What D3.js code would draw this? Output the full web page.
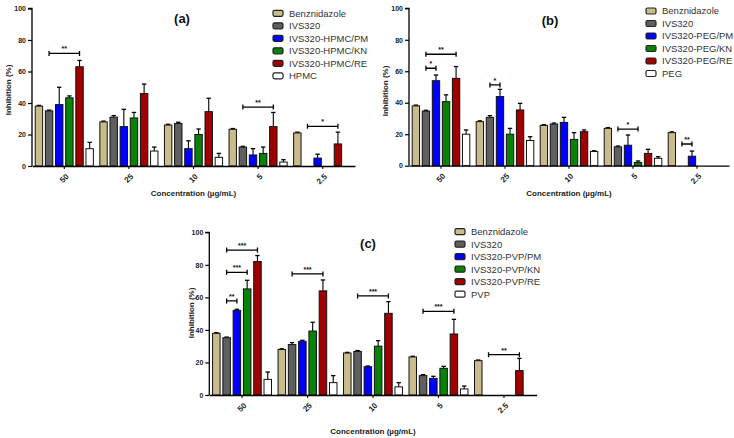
<!DOCTYPE html>
<html><head><meta charset="utf-8">
<script src="https://cdn.jsdelivr.net/npm/d3@7"></script>
<style>body{margin:0;background:#fff;font-family:"Liberation Sans",Arial,sans-serif;}</style>
</head><body><svg id="chart" width="734" height="438"></svg>
<script>
const categories = ["50","25","10","5","2.5"];
const yTicks = [0,20,40,60,80,100];
const colors = ["#c9bb8b","#5f5f5f","#0000ff","#0a820a","#a00000","#ffffff"];

const seriesA = ["Benznidazole","IVS320","IVS320-HPMC/PM","IVS320-HPMC/KN","IVS320-HPMC/RE","HPMC"];
const valuesA = [
  [38,28,26,23.3,21],
  [35,31,27,12,null],
  [39,25,11,7,5],
  [43.3,30.5,20,8,null],
  [63,46,34.5,25,14],
  [11,9.5,5.5,2.5,null]];
const errorsA = [
  [0.5,0.5,0.5,0.5,0.5],
  [0.5,1,0.8,0.5,null],
  [11,11,5,4,2.5],
  [1.2,3.5,3.5,4,null],
  [4,6,8.5,9,7.5],
  [4,2.5,2.5,1.5,null]];
const sigA = [["50",1,4,71.5,"**"],["5",1,4,37.4,"**"],["2.5",1,4,25.2,"*"]];

const seriesB = ["Benznidazole","IVS320","IVS320-PEG/PM","IVS320-PEG/KN","IVS320-PEG/RE","PEG"];
const valuesB = [
  [38,28,25.6,23.7,21],
  [34.7,30.7,26.5,12,null],
  [54,43.9,27.5,13,6],
  [40.7,20,16.7,2,null],
  [55.5,35.4,21.6,7.8,null],
  [20,16,9,4.7,null]];
const errorsB = [
  [0.5,0.5,0.5,0.5,0.5],
  [0.5,1.1,0.6,0.5,null],
  [3.6,4.6,3.2,6.5,3.3],
  [4.3,3.7,4.3,1,null],
  [7.5,4.2,1.1,2.6,null],
  [2.7,2.4,0.5,1,null]];
const sigB = [["50",1,2,61.9,"*"],["50",1,4,70.8,"**"],["25",1,2,51.3,"*"],["5",1,3,23.3,"*"],["2.5",1,2,13.8,"**"]];

const seriesC = ["Benznidazole","IVS320","IVS320-PVP/PM","IVS320-PVP/KN","IVS320-PVP/RE","PVP"];
const valuesC = [
  [37.9,28,25.8,23.4,21.1],
  [35.2,31,26.8,11.9,null],
  [52,33,17.4,10.2,null],
  [65.2,39.3,30,16.4,null],
  [82,64,50.2,37.5,15],
  [9.6,7.6,5,3.7,null]];
const errorsC = [
  [0.4,0.4,0.4,0.4,0.4],
  [0.4,1.2,0.5,0.6,null],
  [0.7,0.6,0.4,1.3,null],
  [5.3,5.4,3.4,1.2,null],
  [3.7,6.7,7.2,9,7.5],
  [4.5,4.3,2.6,1.8,null]];
const sigC = [["50",1,2,57.8,"**"],["50",1,3,75.4,"***"],["50",1,4,89.1,"***"],["25",1,4,74.4,"***"],["10",1,4,60.9,"***"],["5",1,4,51.4,"***"],["2.5",1,4,24.8,"**"]];

const panels = [
  {title:"(a)", series:seriesA, values:valuesA, errors:errorsA, sig:sigA,
   x0:32, x1:355, yTop:8.5, yBot:166, tx:182, ty:18, lx:273, ly:13.3, ylx:8, yly:90, xly:193},
  {title:"(b)", series:seriesB, values:valuesB, errors:errorsB, sig:sigB,
   x0:409, x1:729, yTop:8.3, yBot:165.7, tx:550, ty:20, lx:646, ly:11, ylx:385, yly:91, xly:193},
  {title:"(c)", series:seriesC, values:valuesC, errors:errorsC, sig:sigC,
   x0:209.3, x1:536.7, yTop:232.3, yBot:395, tx:368, ty:243, lx:455, ly:231.7, ylx:191.5, yly:313, xly:431}
];

const svg = d3.select("#chart");

panels.forEach(p => {
  const g = svg.append("g");
  const x = d3.scaleBand().domain(categories).range([p.x0, p.x1]).paddingInner(0.1).paddingOuter(0.05);
  const xs = d3.scaleBand().domain(d3.range(p.series.length)).range([0, x.bandwidth()]).paddingInner(0.27).paddingOuter(0);
  const y = d3.scaleLinear().domain([0,100]).range([p.yBot, p.yTop]);

  // bars
  p.series.forEach((s, si) => {
    categories.forEach((c, ci) => {
      const v = p.values[si][ci];
      if (v == null) return;
      const bx = x(c) + xs(si);
      const e = p.errors[si][ci];
      const cx = bx + xs.bandwidth()/2;
      if (e != null) {
        g.append("line").attr("x1",cx).attr("x2",cx).attr("y1",y(v)).attr("y2",y(v+e))
          .attr("stroke","#000").attr("stroke-width",1.1);
        g.append("line").attr("x1",cx-2.2).attr("x2",cx+2.2).attr("y1",y(v+e)).attr("y2",y(v+e))
          .attr("stroke","#000").attr("stroke-width",1.3);
      }
      g.append("rect").attr("x",bx).attr("y",y(v)).attr("width",xs.bandwidth())
        .attr("height",y(0)-y(v)).attr("fill",colors[si]).attr("stroke","#111").attr("stroke-width",1);
    });
  });

  // axes
  const ya = d3.axisLeft(y).tickValues(yTicks).tickSize(4).tickPadding(2).tickFormat(d3.format("d"));
  const yg = g.append("g").attr("transform",`translate(${p.x0},0)`).call(ya);
  yg.select(".domain").attr("stroke","#000").attr("stroke-width",1.3).attr("d",`M-4,${y(100)}H0V${y(0)}`);
  yg.selectAll(".tick line").attr("stroke","#000").attr("stroke-width",1.2);
  yg.selectAll("text").attr("font-size",7).attr("font-weight","bold").attr("fill","#222")
    .attr("font-family","Liberation Sans, Arial, sans-serif");

  const xa = d3.axisBottom(x).tickSize(3).tickPadding(4).tickSizeOuter(0).tickFormat("");
  const xg = g.append("g").attr("transform",`translate(0,${p.yBot})`).call(xa);
  xg.select(".domain").attr("stroke","#000").attr("stroke-width",1.3);
  xg.selectAll(".tick line").attr("stroke","#000").attr("stroke-width",1.1);
  xg.selectAll(".tick text").remove();
  categories.forEach(c => {
    const cx = x(c) + x.bandwidth()/2;
    g.append("text").attr("text-anchor","end").attr("dy","0.35em")
      .attr("transform",`translate(${cx+3},${p.yBot+9}) rotate(-45)`)
      .attr("font-size",8).attr("font-weight","bold").attr("fill","#222").text(c);
  });

  // significance brackets
  p.sig.forEach(([c, a, b, v, lab]) => {
    const xa1 = x(c) + xs(a) + xs.bandwidth()/2;
    const xb1 = x(c) + xs(b) + xs.bandwidth()/2;
    const yy = y(v);
    g.append("path").attr("d",`M${xa1},${yy-2.5}V${yy+2.5}M${xa1},${yy}H${xb1}M${xb1},${yy-2.5}V${yy+2.5}`)
      .attr("stroke","#000").attr("stroke-width",1.3).attr("fill","none");
    g.append("text").attr("x",(xa1+xb1)/2).attr("y",yy-2).attr("text-anchor","middle")
      .attr("font-size",7).attr("font-weight","bold").attr("fill","#111").text(lab);
  });

  // titles and axis labels
  g.append("text").attr("x",p.tx).attr("y",p.ty).attr("text-anchor","middle").attr("dy","0.35em")
    .attr("font-size",13).attr("font-weight","bold").attr("fill","#111").text(p.title);
  g.append("text").attr("transform",`translate(${p.ylx},${p.yly}) rotate(-90)`).attr("text-anchor","middle")
    .attr("dy","0.35em").attr("font-size",8).attr("font-weight","bold").attr("fill","#222").text("Inhibition (%)");
  g.append("text").attr("x",(p.x0+p.x1)/2).attr("y",p.xly).attr("text-anchor","middle").attr("dy","0.35em")
    .attr("font-size",8).attr("font-weight","bold").attr("fill","#222").text("Concentration (µg/mL)");

  // legend
  p.series.forEach((s, si) => {
    const ly = p.ly + si*12.5;
    g.append("rect").attr("x",p.lx).attr("y",ly-3).attr("width",10).attr("height",6).attr("rx",1.5)
      .attr("fill",colors[si]).attr("stroke","#222").attr("stroke-width",1.2);
    g.append("text").attr("x",p.lx+16).attr("y",ly).attr("dy","0.35em").attr("font-size",9.5)
      .attr("fill","#333").text(s);
  });
});
</script></body></html>
